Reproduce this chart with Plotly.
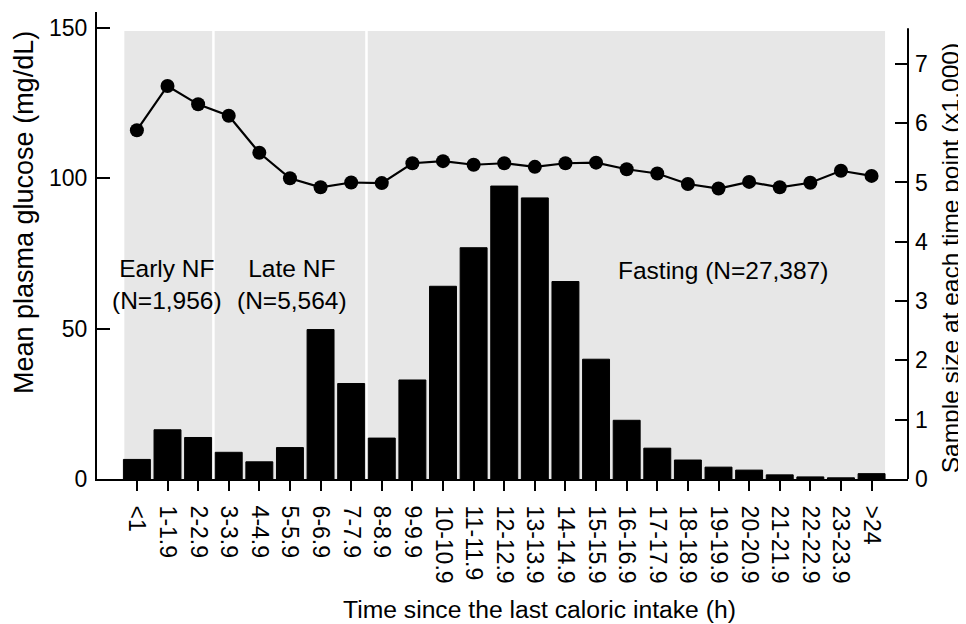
import plotly.graph_objects as go

categories = ["<1", "1-1.9", "2-2.9", "3-3.9", "4-4.9", "5-5.9", "6-6.9", "7-7.9",
              "8-8.9", "9-9.9", "10-10.9", "11-11.9", "12-12.9", "13-13.9", "14-14.9",
              "15-15.9", "16-16.9", "17-17.9", "18-18.9", "19-19.9", "20-20.9",
              "21-21.9", "22-22.9", "23-23.9", ">24"]

# Mean plasma glucose (mg/dL), left axis
glucose = [116.0, 130.7, 124.6, 120.8, 108.5, 100.0, 97.0, 98.6, 98.4, 105.0,
           105.7, 104.5, 105.0, 103.8, 105.0, 105.2, 103.0, 101.6, 98.1, 96.6,
           98.8, 97.0, 98.5, 102.5, 100.8]

# Sample size at each time point (x1,000), right axis
sample_k = [0.33, 0.83, 0.70, 0.45, 0.29, 0.53, 2.52, 1.61, 0.69, 1.67,
            3.25, 3.90, 4.94, 4.74, 3.33, 2.02, 0.99, 0.52, 0.32, 0.20,
            0.15, 0.07, 0.035, 0.02, 0.09]

left_ticks = [0, 50, 100, 150]
right_ticks = [0, 1, 2, 3, 4, 5, 6, 7]

group_labels = ["Early NF<br>(N=1,956)", "Late NF<br>(N=5,564)", "Fasting (N=27,387)"]
group_label_x = [0.97, 5.06, 19.14]
group_label_y = [64.8, 64.8, 69.5]
group_bounds = [2.5, 7.5]

FONT = "Liberation Sans, Arial, sans-serif"
TICK_SIZE = 23
TEXT_SIZE = 24.5

fig = go.Figure()

fig.add_trace(go.Bar(
    x=categories, y=sample_k, yaxis="y2",
    marker=dict(color="black", line=dict(color="black", width=1)),
    width=0.88, showlegend=False,
))

fig.add_trace(go.Scatter(
    x=categories, y=glucose, yaxis="y", mode="lines+markers",
    line=dict(color="black", width=2.2),
    marker=dict(color="black", size=14),
    showlegend=False,
))

shapes = [
    dict(type="rect", xref="x", yref="y", x0=-0.41, x1=24.44, y0=0, y1=149,
         fillcolor="#e7e7e7", line=dict(width=0), layer="below"),
]
for b in group_bounds:
    shapes.append(dict(type="line", xref="x", yref="y", x0=b, x1=b, y0=0, y1=149,
                       line=dict(color="white", width=2.5), layer="below"))
# right axis line (shorter than plot height)
shapes.append(dict(type="line", xref="paper", yref="y2", x0=1, x1=1, y0=0, y1=7.6,
                   line=dict(color="black", width=2)))

annotations = []
for t, x, y in zip(group_labels, group_label_x, group_label_y):
    annotations.append(dict(text=t, x=x, y=y, xref="x", yref="y", showarrow=False,
                            font=dict(family=FONT, size=TEXT_SIZE, color="black"),
                            xanchor="center", yanchor="middle"))
annotations.append(dict(text="Mean plasma glucose (mg/dL)", xref="paper", yref="paper",
                        x=-0.090, y=0.5696, xanchor="center", yanchor="middle",
                        textangle=-90, showarrow=False,
                        font=dict(family=FONT, size=27, color="black")))
annotations.append(dict(text="Sample size at each time point (x1,000)", xref="paper", yref="paper",
                        x=1.052, y=0.473, xanchor="center", yanchor="middle",
                        textangle=-90, showarrow=False,
                        font=dict(family=FONT, size=TEXT_SIZE, color="black")))
annotations.append(dict(text="Time since the last caloric intake (h)", xref="paper", yref="paper",
                        x=0.546, y=-0.2805, xanchor="center", yanchor="middle",
                        showarrow=False,
                        font=dict(family=FONT, size=24.7, color="black")))

fig.update_layout(
    width=958, height=616,
    margin=dict(l=89, r=58, t=4, b=145, pad=0),
    paper_bgcolor="white", plot_bgcolor="white",
    font=dict(family=FONT, size=TICK_SIZE, color="black"),
    bargap=0.12,
    shapes=shapes,
    annotations=annotations,
    xaxis=dict(
        type="category", range=[-1.303, 25.19],
        showline=True, linecolor="black", linewidth=2,
        ticks="outside", ticklen=10, tickwidth=2, tickcolor="black",
        tickangle=90, showgrid=False, zeroline=False,
        ticklabelstandoff=10,
        tickfont=dict(family=FONT, size=TICK_SIZE, color="black"),
    ),
    yaxis=dict(
        range=[0, 155.3], tickvals=left_ticks,
        showline=True, linecolor="black", linewidth=2,
        ticks="inside", ticklen=13, tickwidth=2, tickcolor="black",
        showgrid=False, zeroline=False,
        ticklabelstandoff=3,
        tickfont=dict(family=FONT, size=TICK_SIZE, color="black"),
    ),
    yaxis2=dict(
        range=[0, 7.875], tickvals=right_ticks, overlaying="y", side="right",
        showline=False,
        ticks="inside", ticklen=13, tickwidth=2, tickcolor="black",
        showgrid=False, zeroline=False,
        ticklabelstandoff=6,
        tickfont=dict(family=FONT, size=TICK_SIZE, color="black"),
    ),
)

fig.write_html("out.html")
